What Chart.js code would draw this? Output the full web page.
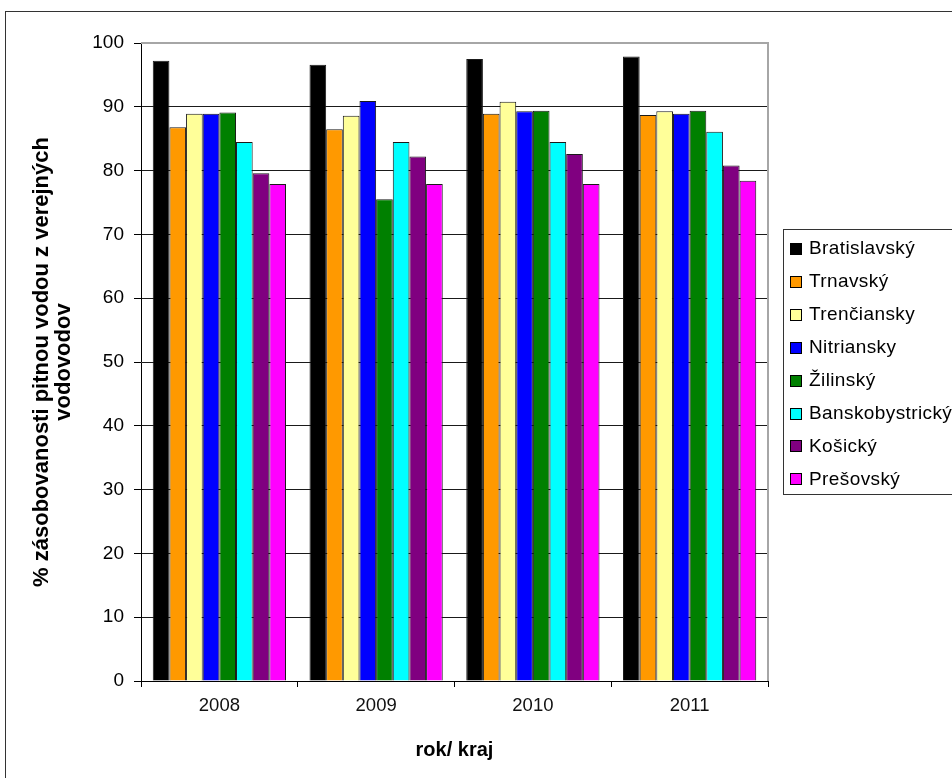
<!DOCTYPE html>
<html lang="sk">
<head>
<meta charset="utf-8">
<title>Zásobovanosť pitnou vodou z verejných vodovodov</title>
<script src="https://cdn.jsdelivr.net/npm/chart.js@4/dist/chart.umd.min.js"></script>
<style>
  html, body { margin: 0; padding: 0; background: #fff; }
  #wrap { width: 952px; height: 778px; position: relative; }
</style>
</head>
<body>
<div id="wrap"><canvas id="c" width="952" height="778"></canvas></div>
<script>
// Roky (kategórie osi x)
const years = ['2008', '2009', '2010', '2011'];

// Kraje (série)
const regions = ['Bratislavský', 'Trnavský', 'Trenčiansky', 'Nitriansky',
                 'Žilinský', 'Banskobystrický', 'Košický', 'Prešovský'];

// % zásobovanosti pitnou vodou z verejných vodovodov podľa krajov a rokov
const bratislavsky     = [97.2, 96.6, 97.5, 97.9];
const trnavsky         = [86.8, 86.5, 88.9, 88.7];
const trenciansky      = [88.9, 88.6, 90.8, 89.3];
const nitriansky       = [88.9, 90.9, 89.3, 88.9];
const zilinsky         = [89.1, 75.5, 89.4, 89.4];
const banskobystricky  = [84.5, 84.5, 84.5, 86.1];
const kosicky          = [79.6, 82.2, 82.6, 80.8];
const presovsky        = [77.9, 77.9, 77.9, 78.4];

// Hodnoty osi y
const yTicks = [0, 10, 20, 30, 40, 50, 60, 70, 80, 90, 100];

const seriesValues = [bratislavsky, trnavsky, trenciansky, nitriansky,
                      zilinsky, banskobystricky, kosicky, presovsky];
const seriesColors = ['#000000', '#FF9900', '#FFFF99', '#0000FF',
                      '#008000', '#00FFFF', '#800080', '#FF00FF'];

const FONT = "'Liberation Sans', Arial, sans-serif";

// Rámček celého grafu a okraj plochy grafu
const framePlugin = {
  id: 'frame',
  beforeDraw(chart) {
    const ctx = chart.ctx;
    ctx.save();
    ctx.fillStyle = '#fff';
    ctx.fillRect(0, 0, chart.width, chart.height);
    ctx.strokeStyle = '#333';
    ctx.lineWidth = 1;
    ctx.strokeRect(5.5, 11.5, chart.width + 20, chart.height + 20);
    ctx.restore();
  },
  afterDatasetsDraw(chart) {
    const { ctx, chartArea: a } = chart;
    ctx.save();
    ctx.strokeStyle = '#a6a6a6';
    ctx.lineWidth = 2;
    ctx.beginPath();
    ctx.moveTo(a.left, a.top);
    ctx.lineTo(a.right, a.top);
    ctx.lineTo(a.right, a.bottom);
    ctx.stroke();
    ctx.restore();
  }
};

// Legenda vpravo v rámčeku
const legendBoxPlugin = {
  id: 'legendBox',
  afterDraw(chart) {
    const ctx = chart.ctx;
    const left = 783.5, top = 229.5, bottom = 494.5;
    ctx.save();
    ctx.fillStyle = '#fff';
    ctx.fillRect(left, top, chart.width, bottom - top);
    ctx.strokeStyle = '#333';
    ctx.lineWidth = 1;
    ctx.strokeRect(left, top, chart.width, bottom - top);
    ctx.font = '19px ' + FONT;
    ctx.textBaseline = 'middle';
    ctx.textAlign = 'left';
    if ('letterSpacing' in ctx) ctx.letterSpacing = '0.4px';
    chart.data.datasets.forEach((ds, i) => {
      const cy = 249 + i * 32.9;
      ctx.fillStyle = ds.backgroundColor;
      ctx.fillRect(790.5, Math.round(cy) - 5.5, 11, 11);
      ctx.strokeStyle = '#000';
      ctx.strokeRect(790.5, Math.round(cy) - 5.5, 11, 11);
      ctx.fillStyle = '#000';
      ctx.fillText(ds.label, 809, cy);
    });
    ctx.restore();
  }
};

new Chart(document.getElementById('c'), {
  type: 'bar',
  data: {
    labels: years,
    datasets: regions.map((name, i) => ({
      label: name,
      data: seriesValues[i],
      backgroundColor: seriesColors[i],
      borderColor: '#1a1a1a',
      borderWidth: 1,
      categoryPercentage: 0.85,
      barPercentage: 1.0
    }))
  },
  options: {
    responsive: false,
    animation: false,
    devicePixelRatio: 1,
    layout: { padding: { left: 0, top: 43, right: 184, bottom: 0 } },
    plugins: {
      legend: { display: false },
      tooltip: { enabled: false }
    },
    scales: {
      x: {
        offset: true,
        grid: {
          offset: true,
          drawOnChartArea: false,
          drawTicks: true,
          tickLength: 6,
          color: '#000'
        },
        border: { color: '#000', width: 1 },
        ticks: {
          color: '#111',
          font: { family: FONT, size: 18.5 },
          padding: 8
        },
        title: {
          display: true,
          text: 'rok/ kraj',
          color: '#000',
          font: { family: FONT, size: 20, weight: 'bold' },
          padding: { top: 0, bottom: 16 }
        },
        afterFit(scale) { scale.height = 97; }
      },
      y: {
        min: 0,
        max: 100,
        afterBuildTicks(scale) { scale.ticks = yTicks.map(v => ({ value: v })); },
        grid: {
          color: ctx => (ctx.tick && ctx.tick.value === 100) ? 'rgba(0,0,0,0)' : '#1a1a1a',
          tickColor: '#000',
          tickLength: 7,
          lineWidth: 1
        },
        border: { color: '#000', width: 1 },
        ticks: {
          color: '#000',
          font: { family: FONT, size: 19 },
          padding: 10
        },
        title: {
          display: true,
          text: ['% zásobovanosti pitnou vodou z verejných', 'vodovodov'],
          color: '#000',
          font: { family: FONT, size: 22, weight: 'bold', lineHeight: 1.0 },
          padding: { top: 31, bottom: 0 }
        },
        afterFit(scale) { scale.width = 141; }
      }
    }
  },
  plugins: [framePlugin, legendBoxPlugin]
});
</script>
</body>
</html>
